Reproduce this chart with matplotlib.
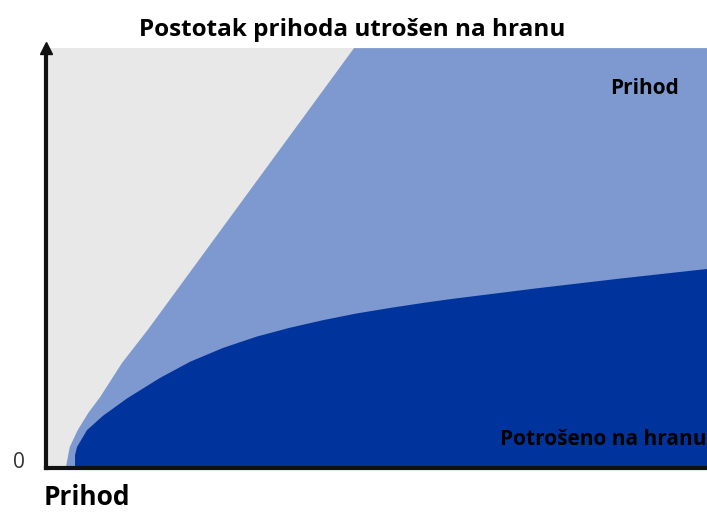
import numpy as np
import matplotlib.pyplot as plt

plt.rcParams['font.family'] = ['Open Sans', 'DejaVu Sans']

# granica prihoda (svijetlo plavo) - x, y u postocima osi
prihod_x = [3.0, 3.6, 4.8, 6.4, 8.2, 11.5, 15.4, 46.6, 100.0]
prihod_y = [0.0, 5.0, 9.0, 13.1, 16.9, 25.0, 32.9, 100.0, 100.0]

# potroseno na hranu (tamno plavo)
hrana_x = [4.4, 4.4, 4.7, 6.2, 8.6, 12.3, 17.2, 21.8, 26.8, 31.9, 36.9, 41.9,
           47.0, 52.0, 57.0, 61.1, 74.3, 86.8, 100.0]
hrana_y = [0.0, 3.1, 5.0, 9.0, 12.4, 16.6, 21.4, 25.3, 28.6, 31.3, 33.4, 35.2,
           36.8, 38.1, 39.3, 40.2, 42.8, 45.1, 47.4]

gray = '#e8e8e8'
light = '#7d99d0'
dark = '#00349c'

fig = plt.figure(figsize=(7.07, 5.12), dpi=100)
ax = fig.add_axes([0.065, 0.086, 0.935, 0.82])
ax.set_xlim(0, 100)
ax.set_ylim(0, 100)
ax.set_facecolor(gray)

ax.fill(prihod_x + [100.0], prihod_y + [0.0], color=light, lw=0)
ax.fill(hrana_x + [100.0], hrana_y + [0.0], color=dark, lw=0)

for s in ['top', 'right']:
    ax.spines[s].set_visible(False)
ax.spines['left'].set_linewidth(3)
ax.spines['bottom'].set_linewidth(3)
ax.spines['left'].set_color('#111111')
ax.spines['bottom'].set_color('#111111')
ax.set_xticks([])
ax.set_yticks([])
ax.plot([0], [1.0], marker='^', color='#111111', markersize=8,
        transform=ax.transAxes, clip_on=False)

fig.text(0.498, 0.941, 'Postotak prihoda utrošen na hranu', ha='center', va='center',
         fontsize=17.5, fontweight='bold')
fig.text(0.027, 0.097, '0', ha='center', va='center', fontsize=15, color='#333333')
fig.text(0.061, 0.029, 'Prihod', ha='left', va='center', fontsize=19, fontweight='bold')
ax.text(0.905, 0.905, 'Prihod', transform=ax.transAxes, ha='center', va='center',
        fontsize=15, fontweight='bold')
ax.text(0.999, 0.067, 'Potrošeno na hranu', transform=ax.transAxes, ha='right', va='center',
        fontsize=15, fontweight='bold')

fig.savefig('out.png', dpi=100)
